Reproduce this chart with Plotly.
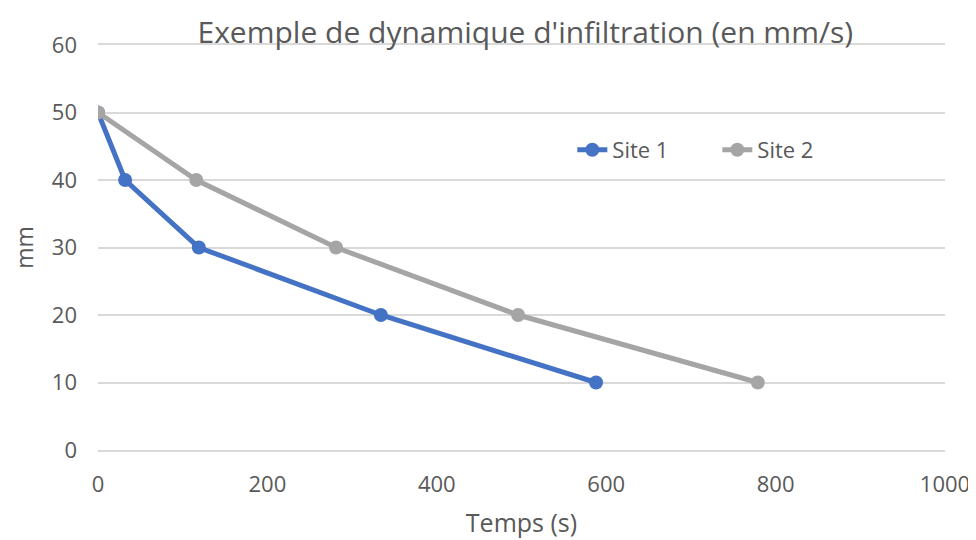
import plotly.graph_objects as go

site1_x = [0, 32, 119, 334, 588]
site1_y = [50, 40, 30, 20, 10]
site2_x = [0, 116, 281, 496, 779]
site2_y = [50, 40, 30, 20, 10]
x_ticks = [0, 200, 400, 600, 800, 1000]
y_ticks = [0, 10, 20, 30, 40, 50, 60]

font = "Open Sans"
txt = "#595959"
grid = "#D9D9D9"

fig = go.Figure()
fig.add_trace(go.Scatter(x=site1_x, y=site1_y, mode="lines+markers", name="Site 1",
                         line=dict(color="#4472C4", width=5), marker=dict(size=14, color="#4472C4")))
fig.add_trace(go.Scatter(x=site2_x, y=site2_y, mode="lines+markers", name="Site 2",
                         line=dict(color="#A5A5A5", width=5), marker=dict(size=14, color="#A5A5A5")))

fig.update_layout(
    width=976, height=540,
    margin=dict(l=90, r=39, t=37, b=98),
    paper_bgcolor="white", plot_bgcolor="white",
    font=dict(family=font, color=txt, size=22),
    title=dict(text="Exemple de dynamique d'infiltration (en mm/s)", x=0.53, xanchor="center",
               y=1 - 24 / 540, yanchor="middle", font=dict(size=30, color=txt, family=font)),
    legend=dict(orientation="h", x=0.56, y=0.741, xanchor="left", yanchor="middle",
                font=dict(size=22, color=txt), bgcolor="rgba(0,0,0,0)",
                entrywidth=100, entrywidthmode="pixels"),
    showlegend=True,
)
fig.update_xaxes(range=[0, 1000], tickvals=x_ticks, showgrid=False, zeroline=False,
                 showline=True, mirror=True, linecolor=grid, linewidth=2,
                 ticks="", ticklabelstandoff=14, automargin=False,
                 tickfont=dict(size=22),
                 title=dict(text="Temps (s)", standoff=17, font=dict(size=25)))
fig.update_yaxes(range=[0, 60], tickvals=y_ticks, showgrid=True, gridcolor=grid, gridwidth=2,
                 zeroline=False, showline=False, ticks="", automargin=False,
                 tickfont=dict(size=22),
                 title=dict(text="mm", standoff=14, font=dict(size=23)),
                 ticklabelstandoff=20)
fig.write_html("out.html")
